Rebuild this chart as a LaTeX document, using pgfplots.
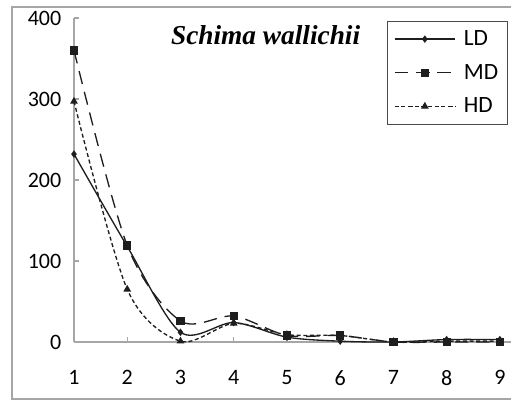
\documentclass[border=0pt]{standalone}
\usepackage{pgfplots}
\pgfplotsset{compat=1.18}
\usepackage{fontspec}
\setmainfont{Carlito}
\newfontfamily\titlefont{Liberation Serif}
\definecolor{axgray}{HTML}{A6A6A6}
\definecolor{ln}{HTML}{1E1E1E}
\begin{document}
\begin{tikzpicture}
\path[use as bounding box] (0,0) rectangle (383.25pt,301.5pt);
\draw[axgray, line width=0.8pt] (9pt,2.25pt) rectangle (386pt,296.25pt);
\begin{axis}[
  at={(55.5pt,45pt)}, anchor=south west,
  scale only axis, width=327.4pt, height=243pt,
  xmin=1, xmax=9.2, ymin=0, ymax=400,
  axis x line=bottom, axis y line=left,
  axis line style={axgray, line width=1.6pt, -},
  xtick={1,...,9}, ytick={0,100,200,300,400},
  tick style={axgray, line width=1pt},
  major tick length=4pt,
  tick align=inside,
  x tick label style={font=\fontsize{16.5pt}{18pt}\selectfont, yshift=-18pt},
  y tick label style={font=\fontsize{16.5pt}{18pt}\selectfont, xshift=-6pt},
  /pgf/number format/assume math mode=true,
  clip=false,
  legend style={at={(0.994,0.991)}, anchor=north east, draw=ln!80, line width=0.6pt,
     font=\fontsize{17.5pt}{19pt}\selectfont, row sep=8.5pt, inner xsep=5pt, inner ysep=5pt,
     /tikz/every odd column/.append style={column sep=4pt}},
  legend cell align=left,
  legend image code/.code={\draw[mark repeat=2,mark phase=2,#1] plot coordinates {(0,0)(0.8cm,0)(1.6cm,0)};},
]
\addplot[ln, line width=1pt, smooth, tension=0.5, mark=diamond*, mark size=2pt, mark options={solid}]
 coordinates {(1,232)(2,118)(3,12)(4,24)(5,6)(6,1)(7,0)(8,3)(9,3)};
\addlegendentry{LD}
\addplot[ln, line width=1pt, smooth, tension=0.5, dash pattern=on 10pt off 6pt, mark=square*, mark size=2.6pt, mark options={solid}]
 coordinates {(1,360)(2,119)(3,26)(4,32)(5,8)(6,8)(7,0)(8,0)(9,0)};
\addlegendentry{MD}
\addplot[ln, line width=1pt, smooth, tension=0.5, dash pattern=on 3pt off 2pt, mark=triangle*, mark size=2.4pt, mark options={solid}]
 coordinates {(1,297)(2,65)(3,1)(4,23)(5,9)(6,8)(7,0)(8,1)(9,1)};
\addlegendentry{HD}
\node[font=\titlefont\bfseries\itshape\fontsize{20.5}{20.5}\selectfont, anchor=base] at (axis cs:4.6,367) {Schima wallichii};
\end{axis}
\end{tikzpicture}
\end{document}
